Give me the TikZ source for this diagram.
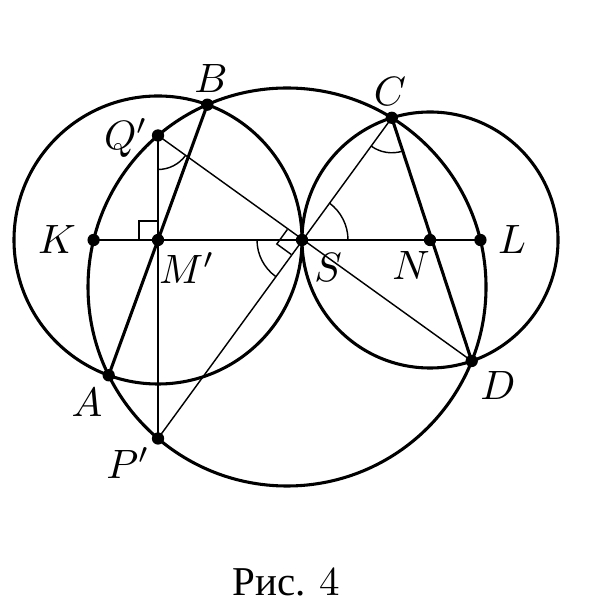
\documentclass[tikz,border=0pt]{standalone}
\usepackage{fontspec}
\newfontfamily\cyrfont{Liberation Serif}
\usetikzlibrary{calc}
\begin{document}
\begin{tikzpicture}[x=0.244pt,y=-0.244pt,
  thickline/.style={line width=0.75pt},
  midline/.style={line width=0.55pt},
  thinline/.style={line width=0.35pt},
  dot/.style={circle,fill=black,inner sep=0pt,minimum size=3pt},
  lbl/.style={inner sep=0pt}]
\useasboundingbox (0,0) rectangle (596,616);
% points
\coordinate (O) at (287,287);
\coordinate (M) at (158,240);
\coordinate (N) at (430,240);
\coordinate (S) at (302,240);
\coordinate (K) at (93.6,240);
\coordinate (L) at (480.4,240);
\coordinate (Qp) at (158,135.5);
\coordinate (Pp) at (158,438.5);
\coordinate (A) at (108.7,375.3);
\coordinate (B) at (207.3,104.7);
\coordinate (C) at (391.8,117.8);
\coordinate (D) at (471.7,361.0);
% circles
\draw[thickline] (M) circle[radius=144];
\draw[thickline] (N) circle[radius=128];
\draw[thickline] (O) circle[radius=199];
% lines
\draw[midline] (K) -- (L);
\draw[thickline] (A) -- (B);
\draw[thickline] (C) -- (D);
\draw[thinline] (Qp) -- (Pp);
\draw[thinline] (Qp) -- (D);
\draw[thinline] (Pp) -- (C);
% right angle marks
\draw[thinline] (139,240) -- (139,221) -- (158,221);
\draw[thinline] ($(S)!4.4pt!(Qp)$) -- ($(S)!4.4pt!(Qp)!4.4pt!90:(Qp)$) -- ($(S)!4.4pt!(Pp)$);
% angle arcs
\draw[thinline] (Qp) ++(36:34) arc[start angle=36, end angle=90, radius=34];
\draw[thinline] (C) ++(71.8:35) arc[start angle=71.8, end angle=126.3, radius=35];
\draw[thinline] (S) ++(-53.7:46) arc[start angle=-53.7, end angle=0, radius=46];
\draw[thinline] (S) ++(126:45) arc[start angle=126, end angle=180, radius=45];
% dots
\foreach \p in {K,M,S,N,L,Qp,Pp,A,B,C,D} \node[dot] (d\p) at (\p) {};
% labels
\node[lbl] (lB) at (211,79) {$B$};
\node[lbl] (lC) at (390,92) {$C$};
\node[lbl] (lQ) at (126,138) {$Q'$};
\node[lbl] (lK) at (57,240) {$K$};
\node[lbl] (lM) at (187,268) {$M'$};
\node[lbl] (lS) at (328,268) {$S$};
\node[lbl] (lN) at (411,266) {$N$};
\node[lbl] (lL) at (512,240) {$L$};
\node[lbl] (lA) at (87,402) {$A$};
\node[lbl] (lD) at (498,385) {$D$};
\node[lbl] (lP) at (128,463) {$P'$};
\node[lbl] (cap) at (286,582) {{\cyrfont Рис.}\ 4};
\end{tikzpicture}
\end{document}
